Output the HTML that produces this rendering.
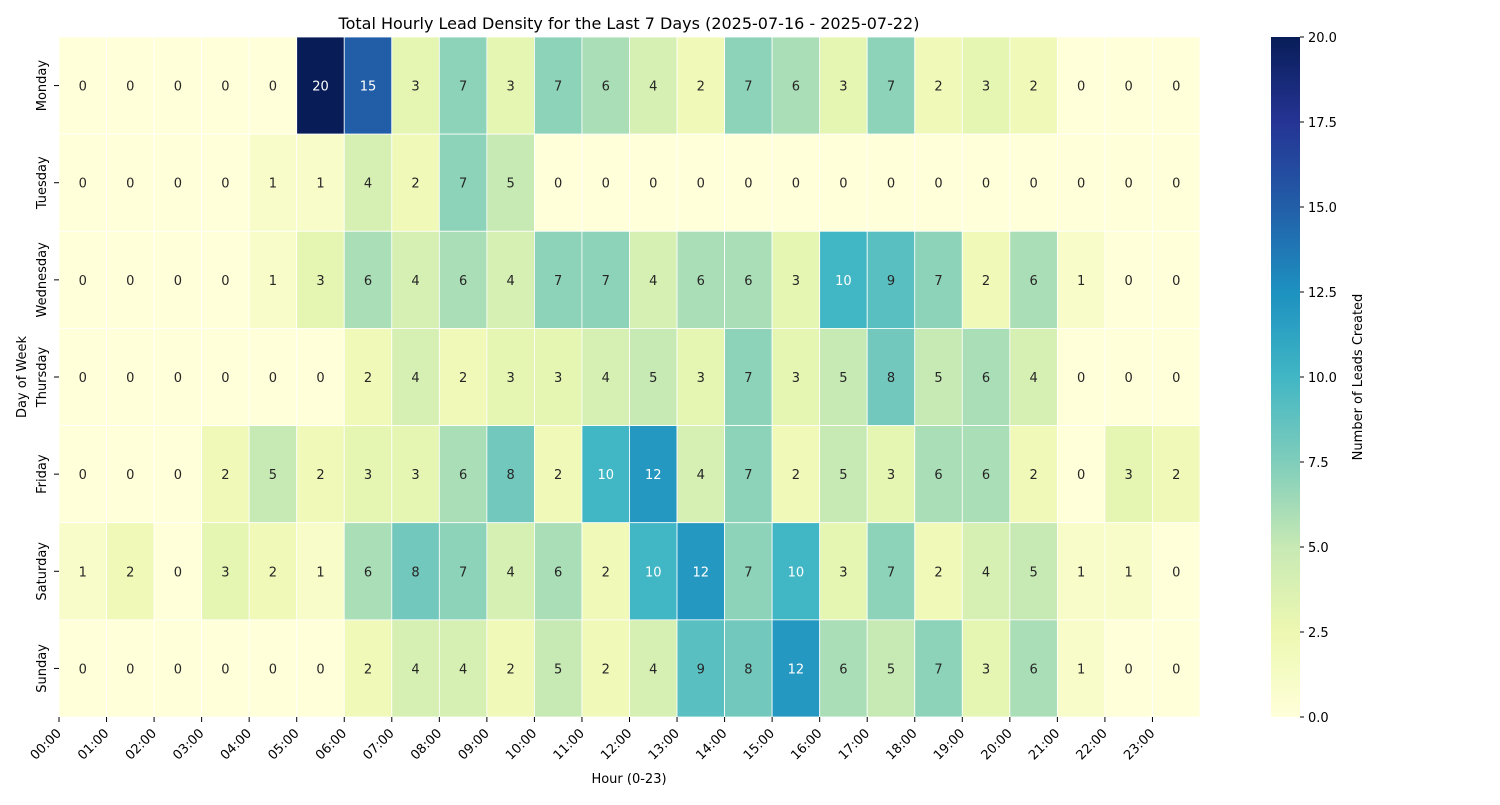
<!DOCTYPE html>
<html><head><meta charset="utf-8"><style>
body{margin:0;background:#fff;}
svg{font-family:"DejaVu Sans","Liberation Sans",sans-serif;}
</style></head><body>
<svg id="chart" width="1500" height="800"></svg>
<script>
const days=["Monday","Tuesday","Wednesday","Thursday","Friday","Saturday","Sunday"];
const hours=["00:00","01:00","02:00","03:00","04:00","05:00","06:00","07:00","08:00","09:00","10:00","11:00","12:00","13:00","14:00","15:00","16:00","17:00","18:00","19:00","20:00","21:00","22:00","23:00"];
const monday=[0,0,0,0,0,20,15,3,7,3,7,6,4,2,7,6,3,7,2,3,2,0,0,0];
const tuesday=[0,0,0,0,1,1,4,2,7,5,0,0,0,0,0,0,0,0,0,0,0,0,0,0];
const wednesday=[0,0,0,0,1,3,6,4,6,4,7,7,4,6,6,3,10,9,7,2,6,1,0,0];
const thursday=[0,0,0,0,0,0,2,4,2,3,3,4,5,3,7,3,5,8,5,6,4,0,0,0];
const friday=[0,0,0,2,5,2,3,3,6,8,2,10,12,4,7,2,5,3,6,6,2,0,3,2];
const saturday=[1,2,0,3,2,1,6,8,7,4,6,2,10,12,7,10,3,7,2,4,5,1,1,0];
const sunday=[0,0,0,0,0,0,2,4,4,2,5,2,4,9,8,12,6,5,7,3,6,1,0,0];
const matrix=[monday,tuesday,wednesday,thursday,friday,saturday,sunday];
const cbTicks=[0,2.5,5,7.5,10,12.5,15,17.5,20];
const vmin=0,vmax=20;

const NS="http://www.w3.org/2000/svg";
const svg=document.getElementById("chart");
function mk(t,a,txt){const e=document.createElementNS(NS,t);for(const k in a)e.setAttribute(k,a[k]);if(txt!==undefined)e.textContent=txt;return e;}
const L=59,R=1200,T=37,B=717;
const cw=(R-L)/hours.length,ch=(B-T)/days.length;
const xs=i=>L+i*cw, ys=j=>T+j*ch;
const stops=["#ffffd9","#edf8b1","#c7e9b4","#7fcdbb","#41b6c4","#1d91c0","#225ea8","#253494","#081d58"].map(h=>[parseInt(h.slice(1,3),16),parseInt(h.slice(3,5),16),parseInt(h.slice(5,7),16)]);
function cmap(v){let t=Math.max(0,Math.min(1,(v-vmin)/(vmax-vmin)))*(stops.length-1);let i=Math.min(Math.floor(t),stops.length-2);let f=t-i;return stops[i].map((a,k)=>Math.round(a+(stops[i+1][k]-a)*f));}
function lum(c){const l=c.map(x=>{x/=255;return x<=0.03928?x/12.92:Math.pow((x+0.055)/1.055,2.4);});return 0.2126*l[0]+0.7152*l[1]+0.0722*l[2];}

const title=mk("text",{x:629,y:29,"text-anchor":"middle","font-size":16,fill:"#000"},"Total Hourly Lead Density for the Last 7 Days (2025-07-16 - 2025-07-22)");


svg.appendChild(title);

const g=mk("g",{});


svg.appendChild(g);
matrix.forEach((row,j)=>{row.forEach((v,i)=>{
  const c=cmap(v);
  const r=mk("rect",{x:xs(i),y:ys(j),width:cw,height:ch,fill:`rgb(${c})`,stroke:"#fff","stroke-width":0.8});
  
  
  g.appendChild(r);
  const t=mk("text",{x:xs(i)+cw/2,y:ys(j)+ch/2+5,"text-anchor":"middle","font-size":13,fill:lum(c)>0.408?"#262626":"#fff"},String(v));
  
  
  g.appendChild(t);
});});

hours.forEach((h,i)=>{
  const x=xs(i);
  svg.appendChild(mk("line",{x1:x,y1:B,x2:x,y2:B+5,stroke:"#000","stroke-width":1}));
  const t=mk("text",{x:x+3,y:B+17,"text-anchor":"end","font-size":13,transform:`rotate(-45 ${x+3} ${B+17})`},h);
  
  
  svg.appendChild(t);
});
days.forEach((d,j)=>{
  const y=ys(j)+ch/2;
  svg.appendChild(mk("line",{x1:L-5,y1:y,x2:L,y2:y,stroke:"#000","stroke-width":1}));
  const t=mk("text",{x:46,y:y,"text-anchor":"middle","font-size":13,transform:`rotate(-90 46 ${y})`},d);
  
  
  svg.appendChild(t);
});
const xt=mk("text",{x:629,y:783,"text-anchor":"middle","font-size":13},"Hour (0-23)");


svg.appendChild(xt);
const yt=mk("text",{x:26,y:377,"text-anchor":"middle","font-size":13,transform:"rotate(-90 26 377)"},"Day of Week");


svg.appendChild(yt);

const cbx=1271,cbw=29;
const defs=mk("defs",{});const lg=mk("linearGradient",{id:"cbg",x1:0,y1:1,x2:0,y2:0});
stops.forEach((s,k)=>lg.appendChild(mk("stop",{offset:k/(stops.length-1),"stop-color":`rgb(${s})`})));
defs.appendChild(lg);svg.appendChild(defs);
const cb=mk("rect",{x:cbx,y:T,width:cbw,height:B-T,fill:"url(#cbg)"});


svg.appendChild(cb);
const cy=v=>B-(v-vmin)/(vmax-vmin)*(B-T);
cbTicks.forEach(v=>{
  svg.appendChild(mk("line",{x1:cbx+cbw,y1:cy(v),x2:cbx+cbw+4,y2:cy(v),stroke:"#000","stroke-width":1}));
  const t=mk("text",{x:cbx+cbw+8,y:cy(v)+5,"font-size":13},v.toFixed(1));
  
  
  svg.appendChild(t);
});
const cbt=mk("text",{x:1362,y:377,"text-anchor":"middle","font-size":13,transform:"rotate(-90 1362 377)"},"Number of Leads Created");


svg.appendChild(cbt);
</script>
</body></html>
